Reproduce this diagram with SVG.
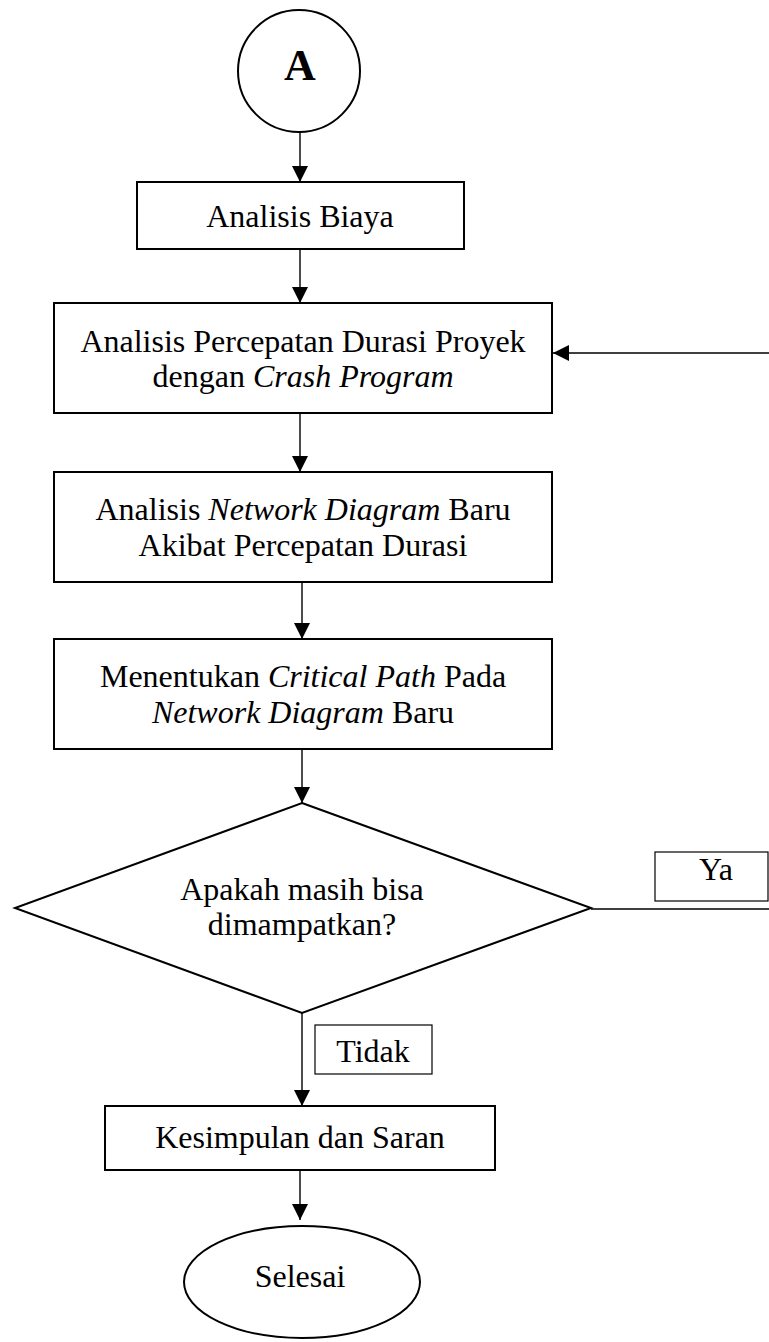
<svg xmlns="http://www.w3.org/2000/svg" width="769" height="1342" viewBox="0 0 769 1342">
  <style>
    .shape { fill: #fff; stroke: #000; stroke-width: 2; }
    .tag { fill: #fff; stroke: #000; stroke-width: 1.2; }
    .wire { fill: none; stroke: #000; stroke-width: 1.4; }
    text { font-family: "Liberation Serif", "Times New Roman", serif; font-size: 32px; fill: #000; text-anchor: middle; }
    .it { font-style: italic; }
  </style>
  <defs>
    <marker id="arrow" markerWidth="16" markerHeight="16" refX="16" refY="8" orient="auto" markerUnits="userSpaceOnUse">
      <path d="M0,0 L16,8 L0,16 Z" fill="#000"/>
    </marker>
  </defs>

  <rect width="769" height="1342" fill="#fff"/>

  <g id="connectors">
    <line class="wire" x1="300" y1="132" x2="300" y2="182" marker-end="url(#arrow)"/>
    <line class="wire" x1="300" y1="249" x2="300" y2="303" marker-end="url(#arrow)"/>
    <line class="wire" x1="300" y1="413" x2="300" y2="472" marker-end="url(#arrow)"/>
    <line class="wire" x1="302" y1="582" x2="302" y2="639" marker-end="url(#arrow)"/>
    <line class="wire" x1="302" y1="749" x2="302" y2="803" marker-end="url(#arrow)"/>
    <line class="wire" x1="302" y1="1013" x2="302" y2="1106" marker-end="url(#arrow)"/>
    <line class="wire" x1="300" y1="1170" x2="300" y2="1220" marker-end="url(#arrow)"/>
    <line class="wire" x1="591" y1="909" x2="769" y2="909"/>
    <line class="wire" x1="769" y1="353" x2="553" y2="353" marker-end="url(#arrow)"/>
  </g>

  <g id="start-A">
    <circle class="shape" cx="299" cy="71" r="61"/>
    <text x="300" y="80" style="font-weight:bold;font-size:44px">A</text>
  </g>

  <g id="analisis-biaya">
    <rect class="shape" x="137" y="182" width="327" height="67"/>
    <text x="300" y="227">Analisis Biaya</text>
  </g>

  <g id="analisis-percepatan">
    <rect class="shape" x="54" y="303" width="498" height="110"/>
    <text x="303" y="352">Analisis Percepatan Durasi Proyek</text>
    <text x="303" y="387">dengan <tspan class="it">Crash Program</tspan></text>
  </g>

  <g id="network-diagram-baru">
    <rect class="shape" x="54" y="472" width="498" height="110"/>
    <text x="303" y="520">Analisis <tspan class="it">Network Diagram</tspan> Baru</text>
    <text x="303" y="556">Akibat Percepatan Durasi</text>
  </g>

  <g id="critical-path">
    <rect class="shape" x="54" y="639" width="498" height="110"/>
    <text x="303" y="687">Menentukan <tspan class="it">Critical Path</tspan> Pada</text>
    <text x="303" y="723"><tspan class="it">Network Diagram</tspan> Baru</text>
  </g>

  <g id="decision">
    <polygon class="shape" points="302,803 591,908 302,1013 15,908"/>
    <text x="302" y="900">Apakah masih bisa</text>
    <text x="302" y="935">dimampatkan?</text>
  </g>

  <g id="label-ya">
    <rect class="tag" x="655" y="852" width="113" height="49"/>
    <text x="716" y="880">Ya</text>
  </g>

  <g id="label-tidak">
    <rect class="tag" x="315" y="1025" width="117" height="49"/>
    <text x="373" y="1062">Tidak</text>
  </g>

  <g id="kesimpulan">
    <rect class="shape" x="105" y="1106" width="390" height="64"/>
    <text x="300" y="1148">Kesimpulan dan Saran</text>
  </g>

  <g id="selesai">
    <ellipse class="shape" cx="302" cy="1282" rx="118" ry="56"/>
    <text x="300" y="1287">Selesai</text>
  </g>
</svg>
